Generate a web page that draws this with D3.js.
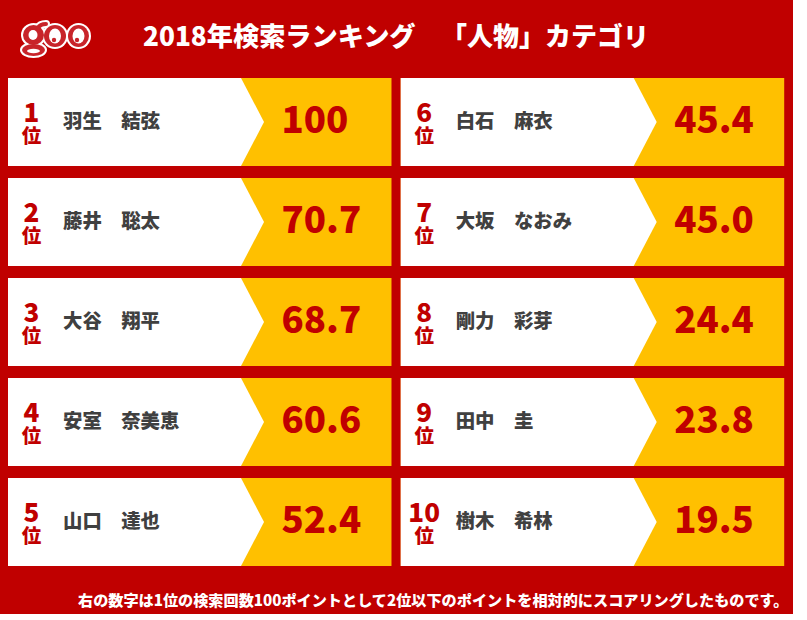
<!DOCTYPE html>
<html>
<head>
<meta charset="utf-8">
<script src="https://cdn.jsdelivr.net/npm/d3@7"></script>
<style>
  html, body { margin: 0; padding: 0; background: #fff; }
  text { font-family: "Noto Sans CJK JP", sans-serif; font-weight: 900; }
</style>
</head>
<body>
<div id="chart"></div>
<script>
const ranks = [1, 2, 3, 4, 5, 6, 7, 8, 9, 10];
const names = ["羽生　結弦", "藤井　聡太", "大谷　翔平", "安室　奈美恵", "山口　達也",
               "白石　麻衣", "大坂　なおみ", "剛力　彩芽", "田中　圭", "樹木　希林"];
const scores = ["100", "70.7", "68.7", "60.6", "52.4", "45.4", "45.0", "24.4", "23.8", "19.5"];
const rankUnit = "位";
const title = "2018年検索ランキング";
const titleCategory = "「人物」カテゴリ";
const footnote = "右の数字は1位の検索回数100ポイントとして2位以下のポイントを相対的にスコアリングしたものです。";

const red = "#c00000", yellow = "#ffc000", grey = "#404040";

const svg = d3.select("#chart").append("svg")
    .attr("width", 807)
    .attr("height", 620)
    .style("display", "block");

// red board, the picture stops short of the window on the right and bottom
svg.append("rect").attr("width", 793).attr("height", 614).attr("fill", red);

// two columns of five rows
const col = d3.scaleBand().domain([0, 1]).range([8, 784.2]).paddingInner(0.0235);
const row = d3.scaleBand().domain([0, 1, 2, 3, 4]).range([78, 566]).paddingInner(0.12);

const cards = svg.selectAll("g.card")
    .data(ranks)
    .join("g")
    .attr("class", "card")
    .attr("transform", (d, i) => `translate(${col(Math.floor(i / 5))},${row(i % 5)})`);

const w = col.bandwidth(), h = row.bandwidth();

cards.append("rect").attr("width", w).attr("height", h).attr("fill", yellow);
cards.append("path")
    .attr("d", `M0,0H233L256,${h / 2}L233,${h}H0Z`)
    .attr("fill", "#fff");

cards.append("text")
    .attr("x", 23.5)
    .attr("y", 44)
    .attr("text-anchor", "middle")
    .attr("font-size", 26)
    .attr("fill", red)
    .text(d => d);

cards.append("text")
    .attr("x", 23.5)
    .attr("y", 65)
    .attr("text-anchor", "middle")
    .attr("font-size", 19.5)
    .attr("fill", red)
    .text(rankUnit);

cards.append("text")
    .attr("x", 55)
    .attr("y", 50)
    .attr("font-size", 19.4)
    .attr("fill", grey)
    .text((d, i) => names[i]);

cards.append("text")
    .attr("x", 273.5)
    .attr("y", 55)
    .attr("font-size", 36.6)
    .attr("fill", red)
    .text((d, i) => scores[i]);

// header
svg.append("text")
    .attr("x", 143)
    .attr("y", 46)
    .attr("font-size", 26.2)
    .attr("fill", "#fff")
    .text(title);

svg.append("text")
    .attr("x", 441)
    .attr("y", 46)
    .attr("font-size", 26)
    .attr("fill", "#fff")
    .text(titleCategory);

svg.append("text")
    .attr("x", 78)
    .attr("y", 606)
    .attr("font-size", 15.15)
    .attr("fill", "#fff")
    .text(footnote);

// goo logo, white edge, red ring, white inside
const logoRed = "#c8242a";
const logo = svg.append("g");
const blobs = [
  { cx: 33.5, cy: 35, rx: 10.5, ry: 10 },
  { cx: 33.5, cy: 50, rx: 11.5, ry: 6 },
  { cx: 55, cy: 36, rx: 11, ry: 11 },
  { cx: 78.5, cy: 36, rx: 10.5, ry: 11 }
];
logo.selectAll("ellipse.edge").data(blobs).join("ellipse")
    .attr("class", "edge")
    .attr("cx", d => d.cx).attr("cy", d => d.cy)
    .attr("rx", d => d.rx + 2).attr("ry", d => d.ry + 2)
    .attr("fill", "#fff");
const ear = "M38,28Q40,24 46,24";
logo.append("path")
    .attr("d", ear)
    .attr("fill", "none")
    .attr("stroke", "#fff")
    .attr("stroke-width", 8)
    .attr("stroke-linecap", "round");
logo.selectAll("ellipse.body").data(blobs).join("ellipse")
    .attr("class", "body")
    .attr("cx", d => d.cx).attr("cy", d => d.cy)
    .attr("rx", d => d.rx).attr("ry", d => d.ry)
    .attr("fill", logoRed);
logo.append("path")
    .attr("d", ear)
    .attr("fill", "none")
    .attr("stroke", logoRed)
    .attr("stroke-width", 4)
    .attr("stroke-linecap", "round");
const holes = [
  { cx: 33, cy: 35, rx: 4.5, ry: 5 },
  { cx: 33.5, cy: 51, rx: 6.5, ry: 2.2 },
  { cx: 55, cy: 36, rx: 6, ry: 7.5 },
  { cx: 78.5, cy: 36, rx: 6, ry: 7.5 }
];
logo.selectAll("ellipse.hole").data(holes).join("ellipse")
    .attr("class", "hole")
    .attr("cx", d => d.cx).attr("cy", d => d.cy)
    .attr("rx", d => d.rx).attr("ry", d => d.ry)
    .attr("fill", "#fff");
logo.selectAll("circle.pupil").data([{ cx: 54, cy: 40 }, { cx: 77, cy: 40 }]).join("circle")
    .attr("class", "pupil")
    .attr("cx", d => d.cx).attr("cy", d => d.cy)
    .attr("r", 2.2)
    .attr("fill", logoRed);
</script>
</body>
</html>
